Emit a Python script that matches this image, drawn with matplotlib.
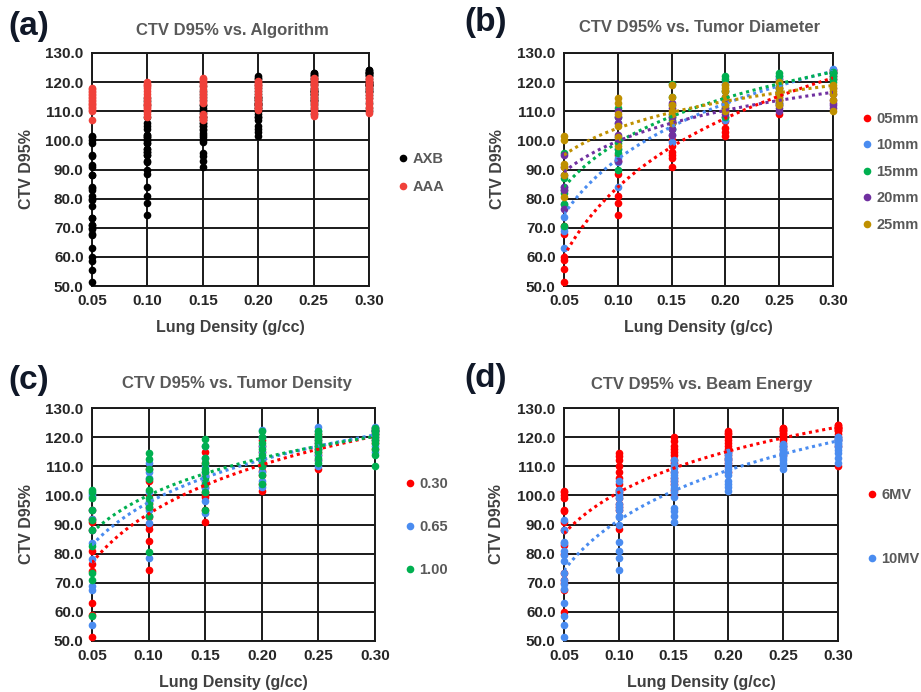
import numpy as np
import matplotlib
matplotlib.use("Agg")
import matplotlib.pyplot as plt
from matplotlib.lines import Line2D

plt.rcParams['font.family'] = ['Liberation Sans', 'DejaVu Sans']
plt.rcParams['font.weight'] = 'bold'

# x categories (lung density, g/cc)
lung_density = [0.05, 0.10, 0.15, 0.20, 0.25, 0.30]

# (d) CTV D95% by beam energy, one list per lung density
d_6mv = [
    [60, 67.5, 70, 71, 73.5, 80, 83, 88, 91, 94.5, 95, 99, 100, 101, 101.5],
    [88.5, 95, 96, 97, 99, 100, 101, 102, 104, 106, 108, 110, 112, 113.5, 114.5],
    [100, 102, 104, 105, 106, 108, 110, 111, 112, 114, 115, 116, 117, 118.5, 120],
    [108, 110, 111, 112, 113, 114, 115, 116, 117, 118, 119, 120, 121, 121.5, 122],
    [114, 116, 117, 118, 119, 119.5, 120, 120.5, 121, 121.5, 122, 122.5, 122.5, 123, 123],
    [110, 117, 119, 120, 121, 122, 122.5, 122.5, 123, 123, 123, 123.5, 123.5, 124, 124],
]
d_10mv = [
    [51.5, 55.5, 58.5, 63, 68, 69.5, 71, 73.5, 77.5, 79.5, 81, 83.5, 84, 88, 91.5],
    [74.5, 78.5, 81, 84, 90, 92.5, 93, 95, 96, 97, 99, 100, 101, 102, 105],
    [91, 93, 94.5, 95.5, 99.5, 101, 102.5, 103.5, 105, 106, 107, 108, 109.5, 110.5, 112],
    [101.5, 103, 104, 105, 107, 108, 109, 110, 111, 112, 112.5, 113, 114, 114.5, 115],
    [109, 110.5, 111, 112, 113, 113.5, 114, 114.5, 115, 115.5, 116, 116.5, 117, 117, 117.5],
    [111, 113, 114.5, 115.5, 116.5, 117, 117.5, 118, 118.5, 119, 119, 119.5, 119.5, 120, 120],
]

# (a) algorithm: AXB is the same set as (d); AAA read separately
a_axb = [a + b for a, b in zip(d_6mv, d_10mv)]
a_aaa = [
    [107, 110, 110.5, 111, 111.5, 112, 112.5, 113, 113.5, 114, 114.5, 115, 115.5, 116, 116.5, 117, 117.5, 118],
    [108, 109, 110, 110.5, 111, 111.5, 112, 112.5, 113, 114, 115, 116, 117, 118, 118.5, 119, 119.5, 120],
    [107, 107.5, 108, 108.5, 109, 113, 113.5, 114.5, 115.5, 116.5, 117.5, 118.5, 119.5, 120, 120.5, 121, 121.5],
    [110.5, 111, 111.5, 112, 112.5, 113, 114, 115, 116, 117, 118, 118.5, 119, 119.5, 120, 120.5],
    [108.5, 109.5, 110.5, 111.5, 112.5, 113.5, 114.5, 115.5, 116.5, 117.5, 118.5, 119.5, 120, 120.5, 121, 121.5],
    [109.5, 110.5, 111.5, 112.5, 113.5, 114.5, 115.5, 116.5, 117.5, 118.5, 119.5, 120, 120.5, 121, 121.5],
]

# (b) tumor diameter
b_05mm = [
    [51.5, 55.8, 59, 60, 67.7, 70.5],
    [74.3, 78.5, 80.8, 88.3, 93, 95],
    [91, 93.8, 95, 96, 98, 100],
    [101.5, 103, 104.3, 106.5, 108, 110],
    [109, 114, 116, 118, 120, 121],
    [121, 122, 123, 123.5, 124, 124],
]
b_10mm = [
    [63, 69, 70, 73.7, 78, 84],
    [84, 92.7, 94, 97, 101, 106],
    [99.5, 102, 104, 106, 109, 112],
    [107, 110, 112, 114, 117, 119.5],
    [112, 115, 117, 119, 121, 122],
    [121, 122, 123, 123.5, 124, 124.5],
]
b_15mm = [
    [70.5, 78, 82, 83, 87, 95.5],
    [90, 95.5, 97, 99, 108, 111],
    [104, 106, 107, 108, 115, 119.5],
    [108, 111, 114, 117, 121, 122],
    [113, 116, 118, 120, 122, 123],
    [120, 121, 122, 123, 123, 123.5],
]
b_20mm = [
    [76.5, 83, 84, 88, 91, 95],
    [93, 100, 102, 106, 108, 110],
    [102, 104, 106, 108, 111, 113],
    [109, 110, 111, 113, 114, 115],
    [110, 111, 112, 113, 114, 116],
    [111, 112, 113, 114, 116, 118],
]
b_25mm = [
    [80.5, 88, 91, 92, 100, 101.5],
    [98, 101, 105, 109, 113, 114.5],
    [106, 109, 110, 112, 115, 119],
    [110, 112, 115, 117, 118, 119],
    [112, 114, 115, 116, 118, 120],
    [110, 114, 116, 117, 118, 119],
]

# (c) tumor density
c_030 = [
    [51.5, 59, 63, 74, 76.5, 81, 88, 91, 92, 95],
    [74.5, 84.5, 88.5, 90, 92.5, 95.5, 97, 100, 105, 109],
    [91, 95, 99.5, 100, 101, 103, 105, 107, 111, 115],
    [101.5, 104, 107, 108.5, 110, 112, 113, 115, 117, 119],
    [109, 112, 114, 115, 116, 117, 118, 119, 120, 121],
    [116, 118, 119, 120, 121, 121, 122, 122, 122.5, 123],
]
c_065 = [
    [55.5, 67.5, 69, 78, 83.5, 88, 92, 95, 99.7, 100.5],
    [78.5, 90.5, 93, 95, 96, 98, 101, 106, 108, 111],
    [94, 98, 102.5, 104, 105, 106.5, 108, 110, 113, 117],
    [103, 105, 108, 110, 112, 113, 115, 117, 120, 122.5],
    [110, 112, 114, 116, 117, 118, 119, 120, 122, 123.5],
    [115, 117, 119, 120, 121, 122, 122, 122.5, 123, 123.5],
]
c_100 = [
    [58.5, 71, 73.5, 82.5, 88, 91.5, 95, 99, 101, 102],
    [80.5, 93, 96, 97.5, 99, 102, 105.5, 109, 112.5, 114.5],
    [95, 101, 104, 106, 108, 109, 111, 113, 117, 119.5],
    [104, 107, 110, 111, 113, 114, 116, 118, 120, 122],
    [111, 113, 115, 116, 117, 118, 119, 120, 121, 122],
    [110, 114, 116, 118, 119, 120, 121, 122, 122.5, 123],
]

RED = '#FF0000'
BLUE = '#4A8CF0'
GREEN = '#00B050'
PURPLE = '#7030A0'
GOLD = '#BF9000'


def flatten(values):
    xs = np.concatenate([[x] * len(v) for x, v in zip(lung_density, values)])
    ys = np.concatenate([np.asarray(v, float) for v in values])
    return xs, ys


def draw_panel(ax, series, trend, leg_y, spacing):
    handles = []
    for name, color, values in series:
        xs, ys = flatten(values)
        ax.plot(xs, ys, 'o', color=color, ms=5.5, mec='none', clip_on=False, zorder=3)
        handles.append(Line2D([], [], marker='o', ls='none', color=color, ms=5.5, mec='none', label=name))
    if trend:
        # Excel style logarithmic trendline
        for name, color, values in series:
            xs, ys = flatten(values)
            k, c = np.polyfit(np.log(xs), ys, 1)
            xx = np.linspace(0.05, 0.30, 200)
            ax.plot(xx, k * np.log(xx) + c, ls=(0, (1, 1.2)), color=color, lw=2.2, zorder=4)

    ax.set_xlim(0.05, 0.30)
    ax.set_ylim(50, 130)
    ax.set_xticks(lung_density)
    ax.set_xticklabels(['%.2f' % v for v in lung_density])
    ax.set_yticks(np.arange(50, 131, 10))
    ax.set_yticklabels(['%.1f' % v for v in np.arange(50, 131, 10)])
    ax.grid(True, color='#1a1a1a', lw=1.4)
    ax.set_axisbelow(True)
    for s in ax.spines.values():
        s.set_color('#1a1a1a')
        s.set_linewidth(1.4)
    ax.tick_params(length=0, labelsize=11, labelcolor='#262626', pad=6)

    ax.set_xlabel('Lung Density (g/cc)', fontsize=11.5, color='#404040', fontweight='bold')
    ax.set_ylabel('CTV D95%', fontsize=11.5, color='#404040', fontweight='bold')
    ax.xaxis.label.set_va('center')
    ax.yaxis.label.set_va('center')
    ax.xaxis.set_label_coords(0.5, -0.18)

    leg = ax.legend(handles=handles, loc='center left', bbox_to_anchor=(1.09, leg_y),
                    frameon=False, fontsize=10.5, handlelength=0.5, handletextpad=0.4,
                    labelspacing=spacing, borderaxespad=0)
    for t in leg.get_texts():
        t.set_color('#595959')
        t.set_fontweight('bold')
    return ax


fig = plt.figure(figsize=(9.21, 6.92), dpi=100)
W, H = 921.0, 692.0

def add_axes(l, t, r, b):
    return fig.add_axes([l / W, 1 - b / H, (r - l) / W, (b - t) / H])

ax_a = add_axes(92, 53, 369, 286)
ax_b = add_axes(564, 53, 833, 286)
ax_c = add_axes(92, 408, 375, 641)
ax_d = add_axes(564, 408, 838, 641)

draw_panel(ax_a, [('AXB', 'black', a_axb), ('AAA', '#F0413A', a_aaa)], False, 0.485, 0.95)
draw_panel(ax_b, [('05mm', RED, b_05mm), ('10mm', BLUE, b_10mm), ('15mm', GREEN, b_15mm),
                  ('20mm', PURPLE, b_20mm), ('25mm', GOLD, b_25mm)], True, 0.49, 0.85)
draw_panel(ax_c, [('0.30', RED, c_030), ('0.65', BLUE, c_065), ('1.00', GREEN, c_100)],
           True, 0.49, 2.0)
draw_panel(ax_d, [('6MV', RED, d_6mv), ('10MV', BLUE, d_10mv)], True, 0.49, 3.45)

ax_a.yaxis.set_label_coords(-0.238, 0.5)
ax_b.yaxis.set_label_coords(-0.249, 0.5)
ax_c.yaxis.set_label_coords(-0.233, 0.5)
ax_d.yaxis.set_label_coords(-0.245, 0.5)

# titles and panel letters
titles = [('CTV D95% vs. Algorithm', 232, 31), ('CTV D95% vs. Tumor Diameter', 700, 28),
          ('CTV D95% vs. Tumor Density', 237, 384), ('CTV D95% vs. Beam Energy', 702, 385)]
for text, x, y in titles:
    fig.text(x / W, 1 - y / H, text, ha='center', va='center', fontsize=12, color='#595959')

letters = [('(a)', 8, 27), ('(b)', 464, 22), ('(c)', 8, 380), ('(d)', 464, 378)]
for text, x, y in letters:
    fig.text(x / W, 1 - y / H, text, ha='left', va='center', fontsize=24, color='#101828')

fig.savefig('out.png', dpi=100)
